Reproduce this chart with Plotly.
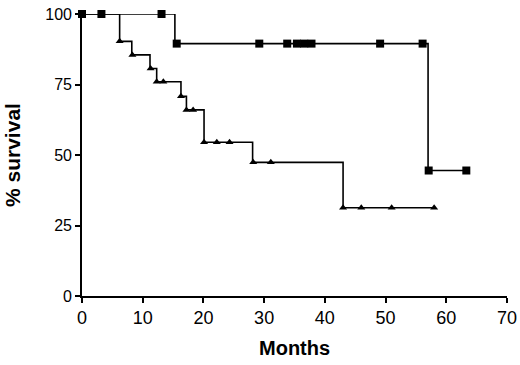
import plotly.graph_objects as go

# Squares group (Kaplan-Meier steps)
sq_step_t = [0, 15.3, 57.0, 63.3]
sq_step_s = [100, 89.5, 44.5, 44.5]
sq_mark_t = [0, 3.2, 13.1, 15.6, 29.2, 33.8, 35.4, 36.6, 37.8, 49.1, 56.1, 57.1, 63.3]
sq_mark_s = [100, 100, 100, 89.5, 89.5, 89.5, 89.5, 89.5, 89.5, 89.5, 89.5, 44.5, 44.5]

# Triangles group
tri_step_t = [0, 6.2, 8.2, 11.2, 12.3, 16.3, 17.2, 20.1, 28.1, 43.0, 58.0]
tri_step_s = [100, 90.3, 85.5, 80.7, 76.0, 70.8, 66.0, 54.5, 47.4, 31.3, 31.3]
tri_mark_t = [6.2, 8.3, 11.3, 12.3, 13.4, 16.3, 17.2, 18.3, 20.1, 22.2, 24.3, 28.2, 31.1, 43.0, 46.0, 51.0, 58.0]
tri_mark_s = [90.3, 85.5, 80.7, 76.0, 76.0, 70.8, 66.0, 66.0, 54.5, 54.5, 54.5, 47.4, 47.4, 31.3, 31.3, 31.3, 31.3]

x_ticks = [0, 10, 20, 30, 40, 50, 60, 70]
y_ticks = [0, 25, 50, 75, 100]

fig = go.Figure()
fig.add_trace(go.Scatter(x=tri_step_t, y=tri_step_s, mode="lines", line_shape="hv",
                         line=dict(color="black", width=1.6), cliponaxis=False, hoverinfo="skip"))
fig.add_trace(go.Scatter(x=tri_mark_t, y=tri_mark_s, mode="markers",
                         marker=dict(symbol="triangle-up", size=7, color="black"), cliponaxis=False))
fig.add_trace(go.Scatter(x=sq_step_t, y=sq_step_s, mode="lines", line_shape="hv",
                         line=dict(color="black", width=1.6), cliponaxis=False, hoverinfo="skip"))
fig.add_trace(go.Scatter(x=sq_mark_t, y=sq_mark_s, mode="markers",
                         marker=dict(symbol="square", size=8, color="black"), cliponaxis=False))

font_family = "Liberation Sans, Arial, Helvetica, sans-serif"
fig.update_layout(
    width=520, height=365,
    margin=dict(l=82, r=13, t=14, b=69),
    paper_bgcolor="white", plot_bgcolor="white",
    showlegend=False,
    font=dict(family=font_family, color="black", size=15),
    xaxis=dict(range=[0, 70], tickvals=x_ticks, showgrid=False, zeroline=False,
               showline=True, linecolor="black", linewidth=1.6, automargin=False,
               ticks="outside", ticklen=5, tickwidth=1.6, tickcolor="black",
               ticklabeloverflow="allow", tickfont=dict(size=18)),
    yaxis=dict(range=[0, 100], tickvals=y_ticks, showgrid=False, zeroline=False,
               showline=True, linecolor="black", linewidth=1.6, automargin=False,
               ticks="outside", ticklen=5, tickwidth=1.6, tickcolor="black",
               ticklabeloverflow="allow", tickfont=dict(size=16)),
    annotations=[
        dict(text="<b>Months</b>", xref="paper", yref="paper", x=0.5, y=0,
             yshift=-52, xanchor="center", yanchor="middle", showarrow=False,
             font=dict(size=20)),
        dict(text="<b>% survival</b>", xref="paper", yref="paper", x=0, y=0.5,
             xshift=-70, xanchor="center", yanchor="middle", showarrow=False,
             textangle=-90, font=dict(size=21)),
    ],
)

# remove the default 8px page margin so the figure fills the window exactly
fig.write_html("out.html", config={"displayModeBar": False},
               post_script="document.body.style.margin='0';")
